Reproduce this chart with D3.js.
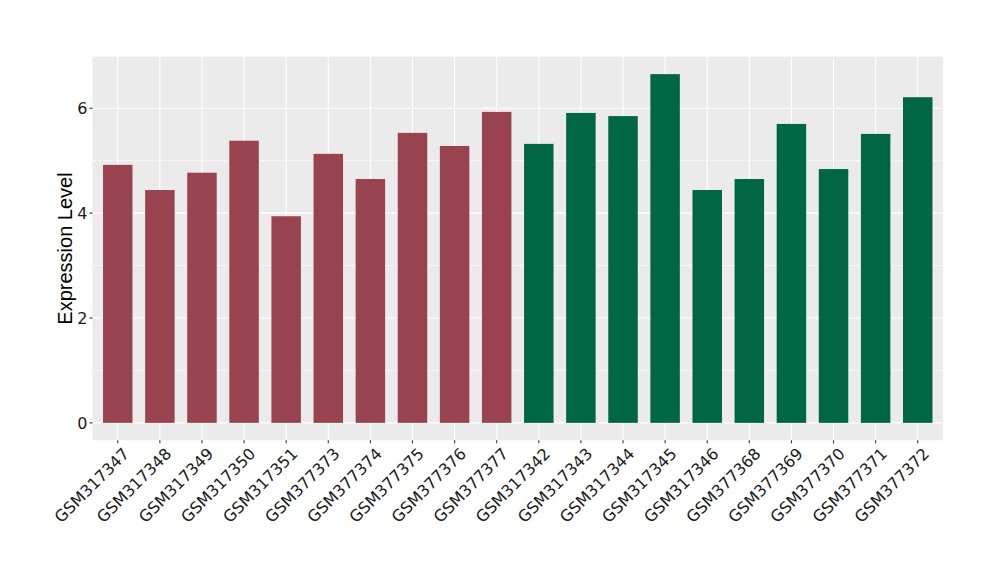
<!DOCTYPE html>
<html><head><meta charset="utf-8">
<script src="https://cdn.jsdelivr.net/npm/d3@7"></script>
<style>body{margin:0;background:#fff;} text{font-family:"Liberation Sans",Arial,sans-serif;}</style>
</head><body>
<svg id="chart" width="1000" height="580"></svg>
<script>
const categories = ["GSM317347","GSM317348","GSM317349","GSM317350","GSM317351","GSM377373","GSM377374","GSM377375","GSM377376","GSM377377","GSM317342","GSM317343","GSM317344","GSM317345","GSM317346","GSM377368","GSM377369","GSM377370","GSM377371","GSM377372"];
const values = [4.92,4.44,4.77,5.38,3.94,5.13,4.65,5.53,5.28,5.93,5.32,5.91,5.85,6.65,4.44,4.65,5.70,4.84,5.51,6.21];
const groups = ["A","A","A","A","A","A","A","A","A","A","B","B","B","B","B","B","B","B","B","B"];
const yTicks = [0,2,4,6];
const yMinor = [1,3,5];
const groupColors = {A:"#994350", B:"#006644"};

const svg = d3.select("#chart");
const L = 92.5, R = 943, T = 56.7, B = 440.3;
const n = categories.length;
const unit = (R - L) / (n - 1 + 1.2);
const x = d3.scalePoint().domain(categories).range([L + 0.6*unit, R - 0.6*unit]);
const bw = unit * 0.7;
const maxV = d3.max(values);
const y = d3.scaleLinear().domain([-0.05*maxV, maxV*1.05]).range([B, T]);

svg.append("rect").attr("x", L).attr("y", T).attr("width", R-L).attr("height", B-T).attr("fill", "#EBEBEB");
const g = svg.append("g");
yMinor.forEach(v => g.append("line").attr("x1", L).attr("x2", R).attr("y1", y(v)).attr("y2", y(v)).attr("stroke", "#fff").attr("stroke-width", 0.55));
yTicks.forEach(v => g.append("line").attr("x1", L).attr("x2", R).attr("y1", y(v)).attr("y2", y(v)).attr("stroke", "#fff").attr("stroke-width", 1.1));
categories.forEach(c => g.append("line").attr("x1", x(c)).attr("x2", x(c)).attr("y1", T).attr("y2", B).attr("stroke", "#fff").attr("stroke-width", 1.1));

svg.append("g").selectAll("rect").data(categories).join("rect")
  .attr("x", d => x(d) - bw/2)
  .attr("width", bw)
  .attr("y", (d,i) => y(values[i]))
  .attr("height", (d,i) => y(0) - y(values[i]))
  .attr("fill", (d,i) => groupColors[groups[i]]);

const tickFont = "DejaVu Sans";
// y axis
const ya = svg.append("g");
yTicks.forEach(v => {
  ya.append("line").attr("x1", L-3).attr("x2", L).attr("y1", y(v)).attr("y2", y(v)).attr("stroke", "#333").attr("stroke-width", 1.1);
  ya.append("text").attr("x", L-5).attr("y", y(v)).attr("dy", "0.36em").attr("text-anchor", "end")
    .style("font-family", tickFont).attr("font-size", 16).attr("fill", "#1a1a1a").text(v);
});
// x axis
const xa = svg.append("g");
categories.forEach(c => {
  xa.append("line").attr("x1", x(c)).attr("x2", x(c)).attr("y1", B).attr("y2", B+3).attr("stroke", "#333").attr("stroke-width", 1.1);
  xa.append("text").attr("transform", `translate(${x(c)+4},${B+6}) rotate(-45)`)
    .attr("text-anchor", "end").attr("dy", "0.75em").style("font-family", tickFont)
    .attr("font-size", 16).attr("fill", "#1a1a1a").text(c);
});
svg.append("text").attr("transform", `translate(72,${(T+B)/2}) rotate(-90)`).attr("text-anchor", "middle")
  .attr("font-size", 20).attr("fill", "#000").text("Expression Level");
</script>
</body></html>
